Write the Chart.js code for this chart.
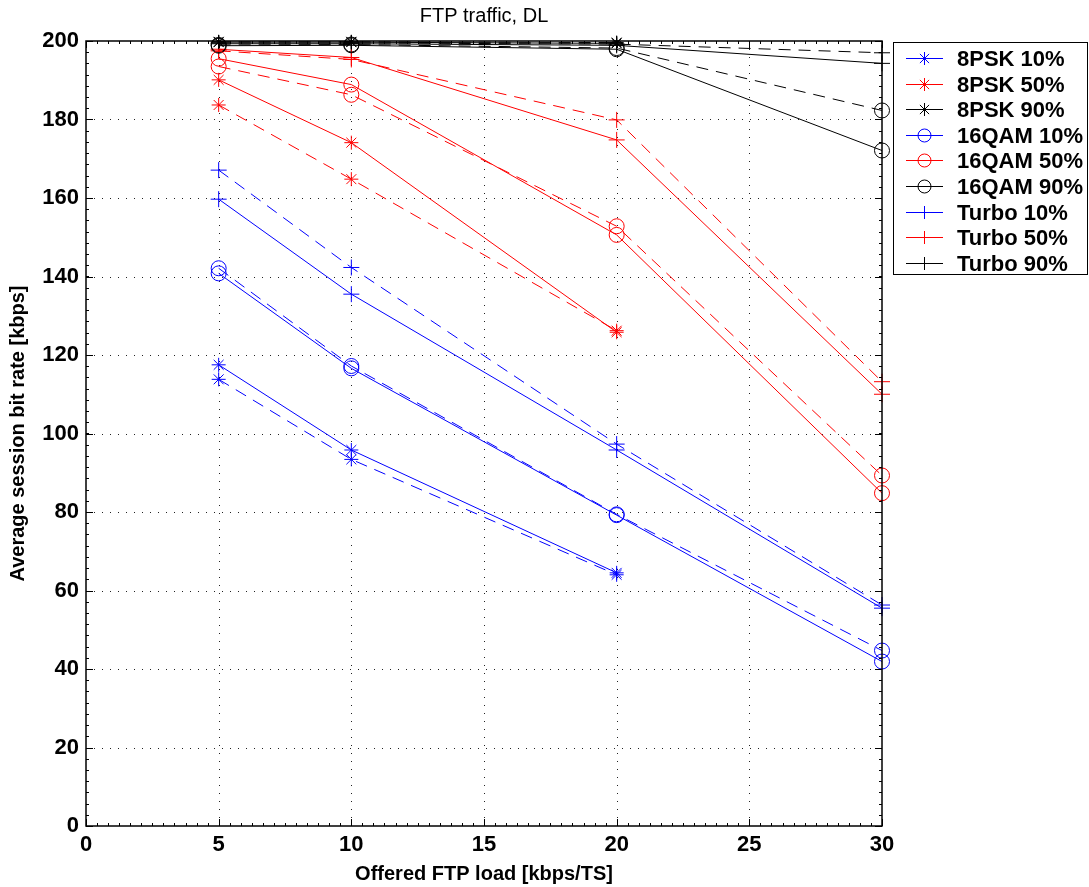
<!DOCTYPE html>
<html>
<head>
<meta charset="utf-8">
<script src="https://cdn.jsdelivr.net/npm/chart.js@4/dist/chart.umd.min.js"></script>
<style>
  html, body { margin: 0; padding: 0; background: #fff; }
  #wrap { width: 1089px; height: 887px; }
</style>
</head>
<body>
<div id="wrap"><canvas id="c" width="1089" height="887"></canvas></div>
<script>
// ---------- data ----------
const titleText = 'FTP traffic, DL';
const xTitle = 'Offered FTP load [kbps/TS]';
const yTitle = 'Average session bit rate [kbps]';
const loads = [5, 10, 20, 30];           // x categories (offered load)
const loads8psk = [5, 10, 20];

const psk10Solid   = [117.5, 95.8, 64.5];
const psk10Dash    = [113.8, 93.4, 64.0];
const psk50Solid   = [190.1, 174.1, 125.8];
const psk50Dash    = [183.7, 164.8, 126.2];
const psk90Solid   = [199.7, 199.7, 199.4];
const psk90Dash    = [199.8, 199.8, 199.6];

const qam10Solid   = [140.8, 116.6, 79.2, 41.9];
const qam10Dash    = [142.1, 117.2, 79.4, 44.7];
const qam50Solid   = [195.5, 188.9, 150.6, 84.8];
const qam50Dash    = [193.5, 186.3, 152.8, 89.3];
const qam90Solid   = [198.8, 198.9, 197.9, 172.1];
const qam90Dash    = [199.0, 199.1, 198.2, 182.3];

const turbo10Solid = [159.7, 135.5, 95.8, 55.5];
const turbo10Dash  = [167.1, 142.3, 97.3, 56.3];
const turbo50Solid = [197.9, 195.8, 174.8, 110.0];
const turbo50Dash  = [197.5, 195.3, 179.9, 113.2];
const turbo90Solid = [199.3, 199.3, 198.9, 194.3];
const turbo90Dash  = [199.5, 199.5, 199.2, 197.0];

const xTicks = [0, 5, 10, 15, 20, 25, 30];
const yTicks = [0, 20, 40, 60, 80, 100, 120, 140, 160, 180, 200];

// ---------- styles ----------
const BLUE = '#0000ff', RED = '#ff0000', BLACK = '#000000';
const FONT = '"Liberation Sans", Arial, sans-serif';

const seriesDefs = [
  { label: '8PSK 10%',  x: loads8psk, solid: psk10Solid,   dash: psk10Dash,   color: BLUE,  marker: 'star' },
  { label: '8PSK 50%',  x: loads8psk, solid: psk50Solid,   dash: psk50Dash,   color: RED,   marker: 'star' },
  { label: '8PSK 90%',  x: loads8psk, solid: psk90Solid,   dash: psk90Dash,   color: BLACK, marker: 'star' },
  { label: '16QAM 10%', x: loads,     solid: qam10Solid,   dash: qam10Dash,   color: BLUE,  marker: 'circle' },
  { label: '16QAM 50%', x: loads,     solid: qam50Solid,   dash: qam50Dash,   color: RED,   marker: 'circle' },
  { label: '16QAM 90%', x: loads,     solid: qam90Solid,   dash: qam90Dash,   color: BLACK, marker: 'circle' },
  { label: 'Turbo 10%', x: loads,     solid: turbo10Solid, dash: turbo10Dash, color: BLUE,  marker: 'cross' },
  { label: 'Turbo 50%', x: loads,     solid: turbo50Solid, dash: turbo50Dash, color: RED,   marker: 'cross' },
  { label: 'Turbo 90%', x: loads,     solid: turbo90Solid, dash: turbo90Dash, color: BLACK, marker: 'cross' }
];

const markerRadius = { star: 7, circle: 7.5, cross: 8 };

function makeDataset(def, values, dashed) {
  return {
    label: def.label,
    inLegend: !dashed,
    marker: def.marker,
    data: def.x.map((xv, i) => ({ x: xv, y: values[i] })),
    borderColor: def.color,
    borderWidth: 1,
    borderDash: dashed ? [12, 8] : [],
    pointStyle: def.marker,
    pointRadius: markerRadius[def.marker],
    pointBorderColor: def.color,
    pointBackgroundColor: 'rgba(0,0,0,0)',
    pointBorderWidth: 1,
    pointHoverRadius: markerRadius[def.marker],
    tension: 0,
    fill: false,
    clip: false
  };
}

const datasets = [];
seriesDefs.forEach(d => {
  datasets.push(makeDataset(d, d.dash, true));
  datasets.push(makeDataset(d, d.solid, false));
});

function drawMarker(ctx, style, x, y, r, color) {
  ctx.save();
  ctx.strokeStyle = color;
  ctx.lineWidth = 1;
  ctx.setLineDash([]);
  ctx.beginPath();
  if (style === 'circle') {
    ctx.arc(x, y, r, 0, Math.PI * 2);
  } else if (style === 'cross') {
    ctx.moveTo(x - r, y); ctx.lineTo(x + r, y);
    ctx.moveTo(x, y - r); ctx.lineTo(x, y + r);
  } else {
    const d = r * Math.SQRT1_2;
    ctx.moveTo(x - r, y); ctx.lineTo(x + r, y);
    ctx.moveTo(x, y - r); ctx.lineTo(x, y + r);
    ctx.moveTo(x - d, y - d); ctx.lineTo(x + d, y + d);
    ctx.moveTo(x - d, y + d); ctx.lineTo(x + d, y - d);
  }
  ctx.stroke();
  ctx.restore();
}

const matlabFrame = {
  id: 'matlabFrame',
  beforeDatasetsDraw(chart) {
    const { ctx, chartArea: a, scales: { x, y } } = chart;
    ctx.save();
    ctx.strokeStyle = '#222';
    ctx.lineWidth = 1;
    ctx.setLineDash([1, 7]);
    xTicks.forEach(v => {
      const px = Math.round(x.getPixelForValue(v)) + 0.5;
      if (v === xTicks[0] || v === xTicks[xTicks.length - 1]) return;
      ctx.beginPath(); ctx.moveTo(px, a.bottom); ctx.lineTo(px, a.top); ctx.stroke();
    });
    yTicks.forEach(v => {
      const py = Math.round(y.getPixelForValue(v)) + 0.5;
      if (v === yTicks[0] || v === yTicks[yTicks.length - 1]) return;
      ctx.beginPath(); ctx.moveTo(a.left, py); ctx.lineTo(a.right, py); ctx.stroke();
    });
    ctx.restore();
  },
  afterDatasetsDraw(chart) {
    const { ctx, chartArea: a, scales: { x, y } } = chart;
    ctx.save();
    ctx.setLineDash([]);
    ctx.strokeStyle = '#000';
    // minor ticks
    ctx.lineWidth = 1;
    const minorX = 5 / 12, minorY = 20 / 7;
    for (let v = 0; v <= 30 + 1e-6; v += minorX) {
      const px = Math.round(x.getPixelForValue(v)) + 0.5;
      ctx.beginPath();
      ctx.moveTo(px, a.bottom); ctx.lineTo(px, a.bottom - 3);
      ctx.moveTo(px, a.top); ctx.lineTo(px, a.top + 3);
      ctx.stroke();
    }
    for (let v = 0; v <= 200 + 1e-6; v += minorY) {
      const py = Math.round(y.getPixelForValue(v)) + 0.5;
      ctx.beginPath();
      ctx.moveTo(a.left, py); ctx.lineTo(a.left + 3, py);
      ctx.moveTo(a.right, py); ctx.lineTo(a.right - 3, py);
      ctx.stroke();
    }
    // major ticks
    xTicks.forEach(v => {
      const px = Math.round(x.getPixelForValue(v)) + 0.5;
      ctx.beginPath();
      ctx.moveTo(px, a.bottom); ctx.lineTo(px, a.bottom - 7);
      ctx.moveTo(px, a.top); ctx.lineTo(px, a.top + 7);
      ctx.stroke();
    });
    yTicks.forEach(v => {
      const py = Math.round(y.getPixelForValue(v)) + 0.5;
      ctx.beginPath();
      ctx.moveTo(a.left, py); ctx.lineTo(a.left + 7, py);
      ctx.moveTo(a.right, py); ctx.lineTo(a.right - 7, py);
      ctx.stroke();
    });
    // box
    ctx.lineWidth = 1.5;
    ctx.strokeRect(a.left, a.top, a.right - a.left, a.bottom - a.top);

    // title
    ctx.fillStyle = '#000';
    ctx.font = '20px ' + FONT;
    ctx.textAlign = 'center';
    ctx.textBaseline = 'middle';
    ctx.fillText(titleText, (a.left + a.right) / 2, 16);

    // legend
    const bx = 893, by = 42, bw = 195, bh = 233;
    ctx.fillStyle = '#fff';
    ctx.fillRect(bx, by, bw, bh);
    ctx.lineWidth = 1;
    ctx.strokeStyle = '#000';
    ctx.strokeRect(bx + 0.5, by + 0.5, bw - 1, bh - 1);
    const items = chart.data.datasets.filter(d => d.inLegend);
    ctx.font = 'bold 22px ' + FONT;
    ctx.textAlign = 'left';
    ctx.textBaseline = 'middle';
    items.forEach((d, i) => {
      const cy = Math.round(by + 16 + i * 25.6) + 0.5;
      ctx.strokeStyle = d.borderColor;
      ctx.lineWidth = 1;
      ctx.beginPath(); ctx.moveTo(906, cy); ctx.lineTo(943, cy); ctx.stroke();
      drawMarker(ctx, d.marker, 924.5, cy, 6.5, d.borderColor);
      ctx.fillStyle = '#000';
      ctx.fillText(d.label, 957, cy + 1);
    });
    ctx.restore();
  }
};

new Chart(document.getElementById('c'), {
  type: 'line',
  data: { datasets },
  options: {
    responsive: false,
    animation: false,
    events: [],
    layout: { padding: { top: 41, right: 207, left: 0, bottom: 0 } },
    plugins: {
      legend: { display: false },
      title: { display: false },
      tooltip: { enabled: false }
    },
    scales: {
      x: {
        type: 'linear',
        min: 0, max: 30,
        afterBuildTicks: s => { s.ticks = xTicks.map(v => ({ value: v })); },
        afterFit: s => { s.height = 61; },
        ticks: { color: '#000', font: { family: FONT, size: 22, weight: 'bold' }, padding: 6, maxRotation: 0 },
        grid: { display: false, drawTicks: false },
        border: { display: false },
        title: { display: true, text: xTitle, color: '#000', font: { family: FONT, size: 20, weight: 'bold' }, padding: { top: 0, bottom: 1 } }
      },
      y: {
        type: 'linear',
        min: 0, max: 200,
        afterBuildTicks: s => { s.ticks = yTicks.map(v => ({ value: v })); },
        afterFit: s => { s.width = 86; },
        ticks: { color: '#000', font: { family: FONT, size: 22, weight: 'bold' }, padding: 7 },
        grid: { display: false, drawTicks: false },
        border: { display: false },
        title: { display: true, text: yTitle, color: '#000', font: { family: FONT, size: 20, weight: 'bold' }, padding: { top: 6, bottom: 0 } }
      }
    }
  },
  plugins: [matlabFrame]
});
</script>
</body>
</html>
